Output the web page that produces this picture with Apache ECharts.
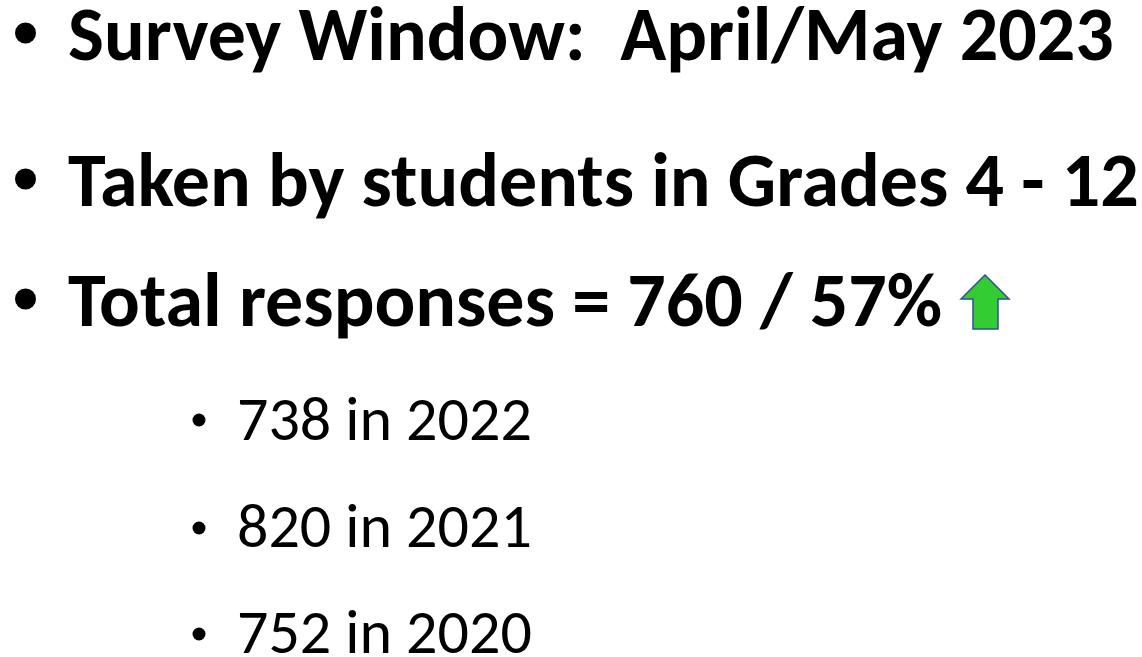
<!DOCTYPE html>
<html>
<head>
<meta charset="utf-8">
<script src="https://cdn.jsdelivr.net/npm/echarts@6/dist/echarts.min.js"></script>
<style>
html,body{margin:0;padding:0;background:#fff;}
#main{width:1142px;height:657px;}
</style>
</head>
<body>
<div id="main"></div>
<script>
// ---- data ----
var surveyWindow = "April/May 2023";
var gradeRange = ["4", "12"];
var totalResponses = 760;
var responseRate = 57;
var priorYears = [2022, 2021, 2020];
var priorCounts = [738, 820, 752];

var mainLines = [
  "Survey Window:  " + surveyWindow,
  "Taken by students in Grades " + gradeRange[0] + " - " + gradeRange[1],
  "Total responses = " + totalResponses + " / " + responseRate + "%"
];
var subLines = priorCounts.map(function (c, i) { return c + " in " + priorYears[i]; });

var chart = echarts.init(document.getElementById('main'), null, {renderer: 'canvas'});

var boldFont = 'bold 76px Carlito, Lato, "Noto Sans", sans-serif';
var regFont = '62px Carlito, Lato, "Noto Sans", sans-serif';
// y of text box bottom (baseline + descent)
var mainY = [79, 225, 345];
var mainBulletY = [33, 179, 299];
var subY = [455, 562, 668];
var subBulletY = [420, 528, 634];

var elements = [];
mainLines.forEach(function (t, i) {
  elements.push({type: 'circle', shape: {cx: 25.5, cy: mainBulletY[i], r: 10.5}, style: {fill: '#000'}});
  elements.push({type: 'text', x: 68, y: mainY[i], style: {text: t, font: boldFont, fill: '#000', align: 'left', verticalAlign: 'bottom'}});
});
subLines.forEach(function (t, i) {
  elements.push({type: 'circle', shape: {cx: 199, cy: subBulletY[i], r: 6.5}, style: {fill: '#000'}});
  elements.push({type: 'text', x: 237, y: subY[i], style: {text: t, font: regFont, fill: '#000', align: 'left', verticalAlign: 'bottom'}});
});
// up arrow
elements.push({
  type: 'polygon',
  shape: {points: [[985, 275], [1009, 299], [998, 299], [998, 329], [973, 329], [973, 299], [961, 299]]},
  style: {fill: '#33CC33', stroke: '#2F528F', lineWidth: 1.5}
});

chart.setOption({
  backgroundColor: '#fff',
  animation: false,
  graphic: {elements: elements}
});
</script>
</body>
</html>
